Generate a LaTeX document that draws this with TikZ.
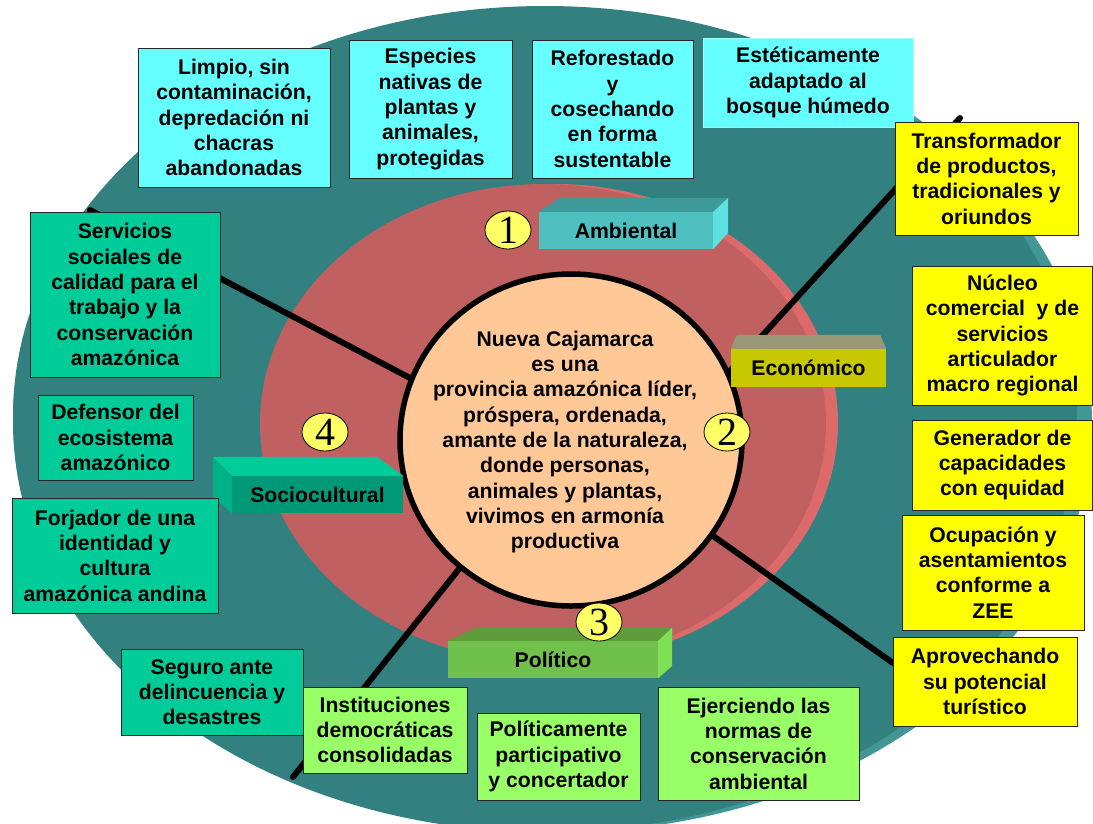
\documentclass[tikz,border=0pt]{standalone}
\usepackage{fontspec}
\setmainfont{Liberation Sans}
\newfontfamily\numfont{Liberation Serif}
\usetikzlibrary{shapes.geometric}

\definecolor{discteal}{RGB}{51,128,128}
\definecolor{discrim}{RGB}{66,150,150}
\definecolor{ringred}{RGB}{192,96,96}
\definecolor{ringrim}{RGB}{221,106,106}
\definecolor{peach}{RGB}{255,200,150}
\definecolor{goalcyan}{RGB}{102,255,255}
\definecolor{ecoyellow}{RGB}{255,255,0}
\definecolor{socgreen}{RGB}{0,204,153}
\definecolor{polgreen}{RGB}{153,255,102}
\definecolor{numyellow}{RGB}{255,255,102}
\definecolor{ambfront}{RGB}{78,192,192}
\definecolor{ambtop}{RGB}{62,154,154}
\definecolor{ambside}{RGB}{94,224,224}
\definecolor{econfront}{RGB}{200,200,0}
\definecolor{econtop}{RGB}{153,153,119}
\definecolor{socfront}{RGB}{0,153,119}
\definecolor{soctop}{RGB}{0,204,153}
\definecolor{socside}{RGB}{0,176,136}
\definecolor{polfront}{RGB}{112,192,76}
\definecolor{poltop}{RGB}{94,156,60}
\definecolor{polside}{RGB}{128,224,84}

\begin{document}
\begin{tikzpicture}[x=1pt,y=-1pt,
  txt/.style={align=center,inner sep=0pt,font=\fontsize{21.2}{25.3}\selectfont\bfseries},
  card/.style={txt,draw=black!85,line width=0.8pt},
  face/.style={txt,minimum height=37},
  num/.style={ellipse,draw=black,line width=0.8pt,fill=numyellow,inner sep=0pt,
    minimum width=46,minimum height=38,font=\numfont\fontsize{40}{40}\selectfont},
  spoke/.style={line width=6pt,line cap=round}]
\useasboundingbox (0,0) rectangle (1093,823);

% discs
\fill[discrim] (560,422) ellipse (532 and 410);
\fill[discteal] (545,416) ellipse (532 and 410);
\fill[discteal] (545,422) ellipse (532 and 410);
\fill[ringrim] (555,423) ellipse (283 and 239);
\fill[ringred] (543,423) ellipse (283 and 239);

% center
\node[ellipse,minimum width=342,minimum height=332,inner sep=0pt] (vision) at (571,440) {};
\coordinate (sp1) at (90,210);
\coordinate (sp2) at (960,118);
\coordinate (sp3) at (893,663);
\coordinate (sp4) at (293,777);
\draw[spoke] (sp1) -- (vision.159);
\draw[spoke] (sp2) -- (vision.23);
\draw[spoke] (sp3) -- (vision.-34);
\draw[spoke] (sp4) -- (vision.229);
\draw[line width=5.5pt,fill=peach] (vision.center) ellipse (171 and 166);
\node[txt] (visiontext) at (565,442) {Nueva Cajamarca\\es una\\provincia amaz\'onica l\'ider,\\pr\'ospera, ordenada,\\amante de la naturaleza,\\donde personas,\\animales y plantas,\\vivimos en armon\'ia\\productiva};

% dimensiones
\node[face,fill=ambfront,minimum width=174] (amb) at (626,230.5) {Ambiental};
\fill[ambtop] (amb.north west) -- ++(21,-14) -- ([shift={(15,-14)}]amb.north east) -- (amb.north east) -- cycle;
\fill[ambside] (amb.north east) -- ++(15,-14) -- ++(0,35) -- (amb.south east) -- cycle;

\node[face,fill=econfront,minimum width=155,minimum height=38] (econ) at (808.5,368) {Econ\'omico};
\fill[econtop] (econ.north west) -- ++(6,-14) -- ([shift={(-6,-14)}]econ.north east) -- (econ.north east) -- cycle;

\node[face,fill=socfront,minimum width=171] (soc) at (317.5,494.5) {Sociocultural};
\fill[soctop] (soc.north west) -- ++(-19,-19) -- ([shift={(-26,-19)}]soc.north east) -- (soc.north east) -- cycle;
\fill[socside] (soc.north west) -- ++(-19,-19) -- ++(0,40) -- (soc.south west) -- cycle;

\node[face,fill=polfront,minimum width=210] (pol) at (553,659.5) {Pol\'itico};
\fill[poltop] (pol.north west) -- ++(28,-13) -- ([shift={(14,-13)}]pol.north east) -- (pol.north east) -- cycle;
\fill[polside] (pol.north east) -- ++(14,-13) -- ++(0,38) -- (pol.south east) -- cycle;

\node[num] (n1) at (508,230) {1};
\node[num] (n2) at (727,432) {2};
\node[num] (n3) at (599,622) {3};
\node[num] (n4) at (325,432) {4};

% ambiental
\node[card,fill=goalcyan,minimum width=192,minimum height=139] (limpio) at (234,117.5) {Limpio, sin\\contaminaci\'on,\\depredaci\'on ni\\chacras\\abandonadas};
\node[card,fill=goalcyan,minimum width=163,minimum height=138] (especies) at (430.5,109) {Especies\\nativas de\\plantas y\\animales,\\protegidas};
\node[card,fill=goalcyan,minimum width=161,minimum height=138] (reforestado) at (612.5,109) {Reforestado\\y\\cosechando\\en forma\\sustentable};
\node[card,draw=goalcyan!60!white,fill=goalcyan,minimum width=210,minimum height=89] (estetica) at (808,82.5) {Est\'eticamente\\adaptado al\\bosque h\'umedo};

% economico
\node[card,fill=ecoyellow,minimum width=183,minimum height=113] (transformador) at (986.5,178.5) {Transformador\\de productos,\\tradicionales y\\oriundos};
\node[card,fill=ecoyellow,minimum width=180,minimum height=139] (nucleo) at (1002.5,335.5) {N\'ucleo\\comercial\ \ y de\\servicios\\articulador\\macro regional};
\node[card,fill=ecoyellow,minimum width=180,minimum height=90] (generador) at (1002.5,465) {Generador de\\capacidades\\con equidad};
\node[card,fill=ecoyellow,minimum width=182,minimum height=115] (ocupacion) at (993,572.5) {Ocupaci\'on y\\asentamientos\\conforme a\\ZEE};
\node[card,fill=ecoyellow,minimum width=184,minimum height=89] (turismo) at (985,681.5) {Aprovechando\\su potencial\\tur\'istico};

% sociocultural
\node[card,fill=socgreen,minimum width=190,minimum height=165] (servicios) at (125,294.5) {Servicios\\sociales de\\calidad para el\\trabajo y la\\conservaci\'on\\amaz\'onica};
\node[card,fill=socgreen,minimum width=155,minimum height=85] (defensor) at (115.5,437.5) {Defensor del\\ecosistema\\amaz\'onico};
\node[card,fill=socgreen,minimum width=206,minimum height=115] (forjador) at (115,555.5) {Forjador de una\\identidad y\\cultura\\amaz\'onica andina};
\node[card,fill=socgreen,minimum width=182,minimum height=86] (seguro) at (212,692) {Seguro ante\\delincuencia y\\desastres};

% politico
\node[card,fill=polgreen,minimum width=164,minimum height=86] (instituciones) at (385,730) {Instituciones\\democr\'aticas\\consolidadas};
\node[card,fill=polgreen,minimum width=163,minimum height=87] (participativo) at (558.5,756.5) {Pol\'iticamente\\participativo\\y concertador};
\node[card,fill=polgreen,minimum width=201,minimum height=113] (normas) at (758.5,743.5) {Ejerciendo las\\normas de\\conservaci\'on\\ambiental};
\end{tikzpicture}
\end{document}
